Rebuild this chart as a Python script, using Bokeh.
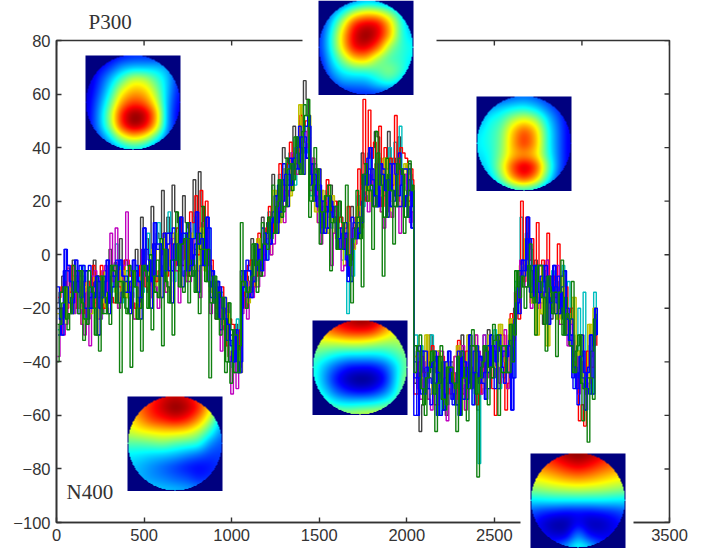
import numpy as np
from bokeh.embed import file_html
from bokeh.layouts import column
from bokeh.models import FixedTicker, LinearAxis, Range1d
from bokeh.plotting import figure
from bokeh.resources import INLINE
from bokeh.core.properties import value

X_TICKS = [0, 500, 1000, 1500, 2000, 2500, 3000, 3500]
X_LABELLED = [0, 500, 1000, 1500, 2000, 2500, 3500]
Y_TICKS = [-100, -80, -60, -40, -20, 0, 20, 40, 60, 80]
SAMPLE_X = list(range(0, 3061, 30))
JUMP_X = 2040

GRAY = [-18,-8,-5,-2,-12,-8,-14,-2,-10,-6,2,-3,6,-2,-8,2,14,6,18,8,24,14,26,12,22,10,28,31,8,-4,-12,-16,-30,-30,-26,-6,-8,6,4,14,12,30,22,40,28,48,40,65,30,34,20,12,26,8,14,2,18,10,38,30,40,44,32,46,36,44,30,34,-48,-66,-36,-30,-52,-44,-60,-40,-52,-30,-48,-34,-58,-44,-28,-46,-32,-46,-30,-20,-6,2,-14,-2,-22,-6,-24,-10,-22,-30,-34,-46,-40,-50,-30]
CYAN = [-28,-20,-6,-16,-8,-24,-10,-18,-24,-8,-14,4,-18,-6,-16,-4,-14,8,-8,12,-4,16,-10,10,2,-6,14,-2,10,-12,-22,-14,-34,-42,-24,-18,-14,-8,-4,2,16,10,30,20,38,26,50,38,22,30,12,24,10,16,-2,-22,-8,22,18,38,24,36,22,40,42,48,26,30,-30,-34,-48,-30,-50,-42,-56,-46,-40,-50,-36,-56,-78,-30,-44,-28,-50,-42,-30,-10,14,8,2,-6,-12,-2,-6,-14,-4,-10,-30,-20,-14,-34,-14]
OLIVE = [-22,-24,-18,-8,-20,-12,-22,-10,-18,-20,-6,-14,-6,-16,-10,-18,-4,-12,2,-8,6,-4,8,-6,-2,8,-4,10,-6,-14,-10,-26,-22,-36,-36,-8,-18,-2,6,-2,8,24,12,32,22,36,56,42,26,16,24,8,22,6,10,12,2,18,24,20,32,22,36,20,30,18,34,20,-38,-46,-30,-52,-36,-50,-40,-54,-34,-48,-30,-44,-40,-50,-30,-42,-26,-40,-24,-22,-4,6,-18,-30,-22,-34,-18,-24,-8,-22,-16,-36,-50,-26,-20]
RED = [-16,-10,-14,-20,-6,-18,-12,-20,-4,-12,-16,-6,-14,-2,-18,-8,-2,-14,4,-6,8,2,-4,14,6,16,22,24,20,-2,-20,-12,-34,-26,-38,-14,-4,-12,8,0,18,14,34,24,42,34,52,50,34,20,14,28,16,12,2,18,10,32,58,54,42,48,40,36,52,40,36,32,-52,-38,-44,-34,-56,-38,-50,-44,-32,-52,-36,-46,-52,-36,-34,-60,-30,-58,-22,-14,20,14,6,12,-2,8,-8,4,-16,-28,-40,-62,-64,-42,-30]
PURPLE = [-38,-30,-4,-22,-12,-30,-34,-6,-24,-4,8,10,-16,16,-14,-24,2,-14,-6,-20,0,-12,6,-18,4,-10,2,-16,6,-22,-24,-36,-20,-52,-50,-22,-24,-16,-12,-8,6,4,18,12,24,32,38,46,24,28,4,20,-4,12,-6,8,2,14,26,16,18,24,10,16,22,8,30,12,-44,-54,-40,-58,-42,-36,-62,-44,-56,-34,-40,-50,-36,-30,-44,-34,-48,-28,-36,-14,-2,-12,-20,-6,-18,-2,-20,-4,-26,-34,-32,-52,-44,-48,-28]
BLUE = [-24,2,-10,-2,-16,-6,-20,-8,-16,-2,-12,-4,-8,-14,-2,-10,10,-2,12,4,-6,8,-2,14,8,-4,16,6,14,-6,-10,-20,-26,-40,-44,-12,-6,-10,2,8,4,22,16,30,26,40,44,36,34,18,20,10,14,6,2,-8,12,8,30,40,22,34,24,18,30,26,22,10,-60,-36,-50,-40,-44,-58,-36,-52,-60,-40,-30,-44,-38,-54,-30,-40,-42,-38,-58,-18,-2,14,-6,-18,-10,-26,-4,-22,-6,-32,-42,-38,-58,-30,-20]
GREEN = [-40,-18,-28,-4,-22,-32,-6,-20,-36,-16,-26,-4,-44,-20,-42,-12,-36,-8,-28,-2,-34,-12,-30,4,-14,-18,-6,-22,2,-46,-8,-30,-44,-48,-30,12,-20,-8,-14,12,2,26,20,16,32,28,34,56,14,40,4,22,-6,18,2,26,-18,24,-12,20,2,38,-8,30,4,36,8,35,-44,-30,-60,-40,-66,-34,-56,-42,-66,-36,-62,-28,-83,-40,-56,-26,-60,-34,-44,-30,-16,-20,4,-30,-4,-36,-14,-38,-2,-22,-10,-34,-62,-70,-54]
GREEN2 = [-26,-12,-22,-14,-6,-24,-12,-30,-8,-22,-4,-18,-10,-22,-6,-24,-4,-20,-8,-16,2,-18,-2,-12,6,-8,-14,2,-10,-18,-24,-16,-40,-28,-44,-10,-14,4,-2,4,14,8,28,18,34,44,30,52,20,32,16,22,12,2,12,0,6,14,30,24,18,26,14,24,18,32,14,24,-34,-50,-46,-36,-48,-54,-42,-48,-38,-46,-50,-34,-46,-34,-42,-32,-34,-44,-26,-6,-8,-12,-16,-4,-16,-8,-22,-14,-30,-24,-44,-30,-50,-46,-24]
BLUE2 = [-12,-20,-4,-14,-22,-10,-4,-16,-20,-10,-18,-12,-2,-8,-20,-4,-12,-6,-10,2,-8,4,10,-4,-8,12,0,8,-4,-12,-18,-28,-24,-34,-28,-20,-2,-8,-4,10,8,16,26,34,30,36,48,44,26,22,12,18,20,14,10,-2,14,10,20,36,28,18,32,26,20,38,20,28,-40,-44,-36,-56,-38,-46,-52,-54,-44,-36,-48,-56,-46,-40,-50,-36,-30,-48,-32,-24,-10,-2,-14,-16,-8,-14,-16,-18,-12,-20,-46,-56,-36,-42,-34]
PURPLE2 = [-20,-26,-12,-8,-26,-14,-8,-24,-6,-18,-10,-20,-4,-12,-24,-10,-8,-16,-12,2,-14,6,-6,4,-10,6,-6,12,-2,-10,-16,-22,-38,-32,-42,-16,-10,-12,-6,6,0,14,24,22,38,30,42,40,36,12,18,14,8,10,-4,2,4,16,22,30,34,16,26,14,24,20,18,16,-50,-42,-54,-44,-36,-52,-46,-38,-48,-58,-42,-30,-52,-46,-36,-42,-38,-50,-34,-18,-4,-8,-10,-20,-14,-20,-10,-26,-20,-26,-38,-40,-52,-38,-26]
GRAY2 = [-14,-24,-16,-6,-18,-26,-14,-8,-22,-14,-6,-10,-16,-4,-12,-20,-6,0,-14,6,-10,-2,16,4,12,-2,8,18,2,-8,-14,-24,-18,-44,-34,-12,-12,-4,-8,8,6,18,14,36,24,38,46,58,26,24,10,26,14,20,6,-4,10,6,34,26,46,30,36,24,34,30,24,26,-36,-56,-44,-52,-38,-58,-44,-50,-60,-42,-34,-52,-42,-36,-46,-30,-44,-34,-40,-12,-12,-4,-18,-10,-26,-12,-14,-20,-16,-34,-36,-48,-46,-36,-22]
BLUE3 = [-30,-6,-18,-10,-4,-20,-16,-10,-14,-18,-8,-2,-14,-10,-6,-16,2,-10,4,-8,8,-6,4,8,-6,6,4,-4,10,-16,-12,-24,-32,-36,-40,-6,-16,-2,-6,-2,12,12,20,26,36,32,40,48,30,26,8,16,18,2,8,-10,6,12,26,32,18,30,28,34,22,18,32,18,-46,-52,-42,-48,-60,-40,-48,-56,-36,-54,-44,-36,-48,-44,-34,-50,-36,-34,-46,-22,-6,6,-4,-14,-4,-18,-12,-8,-24,-30,-50,-46,-44,-52,-30]

# each trace alternates two read-off envelopes at half the sample spacing
SERIES = [(GRAY, GRAY2, "#404040", 0), (CYAN, BLUE3, "#00BFBF", 7), (OLIVE, PURPLE2, "#BFBF00", 3),
          (RED, BLUE2, "#FF0000", 10), (PURPLE, PURPLE2, "#BF00BF", 5), (OLIVE, GREEN2, "#BFBF00", 12),
          (BLUE2, BLUE, "#0000FF", 2), (BLUE3, GREEN2, "#0000FF", 9), (GREEN2, GRAY2, "#008000", 6),
          (BLUE, BLUE3, "#0000FF", 13), (GREEN, GREEN2, "#108010", 0)]

MAP_P300_LEFT = [
 [.05,.05,.08,.12,.15,.15,.12,.08,.05],[.05,.10,.17,.27,.30,.30,.32,.28,.10],[.05,.15,.29,.44,.58,.56,.44,.32,.12],
 [.06,.18,.36,.60,.70,.68,.52,.30,.12],[.07,.22,.44,.72,.82,.78,.60,.27,.10],[.07,.25,.52,.86,1.0,.96,.72,.25,.08],
 [.07,.25,.50,.84,.98,.92,.68,.25,.08],[.05,.18,.34,.56,.66,.60,.42,.20,.07],[.04,.10,.20,.30,.36,.32,.20,.10,.05]]
MAP_TOP = [
 [.05,.08,.15,.22,.27,.25,.18,.10,.05],[.08,.22,.38,.55,.62,.60,.50,.35,.12],[.10,.32,.58,.85,.92,.90,.70,.42,.25],
 [.14,.38,.68,.92,1.0,.92,.72,.42,.32],[.15,.38,.66,.90,.92,.80,.52,.42,.38],[.12,.33,.52,.68,.70,.52,.44,.42,.35],
 [.08,.27,.38,.42,.42,.46,.52,.44,.30],[.05,.18,.27,.27,.28,.36,.42,.33,.14],[.04,.06,.12,.15,.15,.16,.14,.10,.05]]
MAP_RIGHT = [
 [.05,.08,.15,.2,.22,.2,.14,.08,.05],[.12,.28,.33,.36,.38,.33,.24,.15,.06],[.25,.38,.42,.55,.62,.55,.35,.20,.08],
 [.34,.40,.47,.68,.82,.70,.40,.22,.08],[.36,.40,.48,.70,.85,.72,.40,.22,.08],[.34,.38,.50,.68,.72,.66,.42,.22,.08],
 [.30,.36,.55,.82,.96,.85,.50,.22,.08],[.20,.30,.48,.72,.85,.72,.42,.17,.06],[.06,.14,.26,.35,.38,.33,.20,.08,.04]]
MAP_N400 = [
 [.6,.72,.82,.9,.93,.9,.8,.6,.4],[.68,.78,.86,.94,1.0,.96,.86,.66,.4],[.62,.72,.82,.86,.9,.86,.74,.55,.3],
 [.58,.62,.64,.66,.66,.64,.56,.42,.24],[.46,.46,.48,.5,.46,.44,.42,.26,.2],[.36,.35,.33,.32,.3,.26,.22,.18,.18],
 [.33,.3,.26,.22,.18,.14,.12,.14,.18],[.33,.3,.27,.25,.22,.2,.15,.17,.2],[.34,.34,.34,.33,.32,.3,.28,.25,.22]]
MAP_MID = [
 [.78,.85,.9,.95,1.0,.98,.86,.7,.6],[.66,.72,.8,.85,.86,.84,.72,.6,.58],[.56,.56,.56,.58,.58,.55,.52,.52,.56],
 [.46,.42,.37,.34,.34,.34,.36,.42,.5],[.42,.3,.2,.13,.12,.12,.18,.32,.5],[.42,.27,.12,.04,0,.02,.1,.32,.55],
 [.44,.33,.2,.13,.1,.12,.2,.36,.56],[.5,.44,.36,.34,.35,.36,.4,.46,.58],[.55,.55,.55,.55,.58,.6,.6,.6,.6]]
MAP_BOTTOM = [
 [.75,.85,.92,.98,1.0,.98,.92,.85,.75],[.72,.78,.82,.88,.92,.88,.82,.78,.72],[.64,.66,.7,.74,.76,.74,.7,.66,.64],
 [.52,.54,.56,.57,.58,.57,.56,.54,.52],[.36,.37,.38,.38,.38,.38,.38,.37,.36],[.2,.16,.14,.12,.12,.12,.14,.16,.2],
 [.15,.08,.03,.03,.12,.05,.05,.1,.15],[.15,.12,.08,.08,.28,.12,.1,.12,.16],[.16,.18,.2,.3,.42,.35,.2,.15,.16]]

FRAME_COLOR = "#333333"
main = figure(width=705, height=551, output_backend="svg", toolbar_location=None,
              x_range=Range1d(0, 3500), y_range=Range1d(-100, 80),
              min_border_left=56, min_border_right=36, min_border_top=40, min_border_bottom=29,
              x_axis_location=None, y_axis_location=None,
              outline_line_color=FRAME_COLOR, outline_line_width=1.6, frame_align=False)
main.grid.visible = False
split = SAMPLE_X.index(JUMP_X)
for a, b, color, shift in SERIES:
    n = min(len(a), len(b))
    ys = np.empty(2 * n)
    ys[0::2], ys[1::2] = a[:n], b[:n]
    base = np.array(SAMPLE_X[:n], dtype=float)
    xs = np.empty(2 * n)
    xs[0::2], xs[1::2] = base + shift, base + 15 + shift
    xs[:2 * split] = np.minimum(xs[:2 * split], JUMP_X)
    xs[2 * split] = JUMP_X
    main.step(xs, ys, mode="after", line_color=color, line_width=1.4)

UX = 3500 / 613
UY = 180 / 482
main.segment(x0=X_TICKS, x1=X_TICKS, y0=[80] * len(X_TICKS), y1=[80 - 5 * UY] * len(X_TICKS),
             line_color=FRAME_COLOR, line_width=1.4)
main.segment(x0=[3500] * len(Y_TICKS), x1=[3500 - 5 * UX] * len(Y_TICKS), y0=Y_TICKS, y1=Y_TICKS,
             line_color=FRAME_COLOR, line_width=1.4)

for side, ticks in [("left", Y_TICKS), ("below", X_LABELLED)]:
    ax = LinearAxis(axis_line_color=FRAME_COLOR, axis_line_width=1.6, major_tick_line_color=FRAME_COLOR,
                    major_tick_line_width=1.4, major_tick_in=5, major_tick_out=0, minor_tick_line_color=None,
                    major_label_text_font="Liberation Sans", major_label_text_font_size="16.5px",
                    major_label_text_color=FRAME_COLOR, major_label_standoff=6)
    ax.ticker = FixedTicker(ticks=ticks)
    main.add_layout(ax, side)

overlay = figure(width=705, height=551, output_backend="svg", toolbar_location=None,
                 x_range=Range1d(-56 * UX, (705 - 56) * UX), y_range=Range1d(-100 - 29 * UY, 80 + 40 * UY),
                 x_axis_location=None, y_axis_location=None, outline_line_color=None,
                 background_fill_color=None, border_fill_color=None, frame_align=False,
                 min_border=0, min_border_left=0, min_border_right=0, min_border_top=0, min_border_bottom=0)
overlay.grid.visible = False
overlay.styles = {"position": "absolute", "left": "0px", "top": "0px"}


def dx(px):
    return (px - 56) * UX


def dy(py):
    return 80 - (py - 40) * UY


def jet_image(grid, n=95):
    g = np.array(grid, dtype=float)
    src = np.linspace(0, 1, g.shape[0])
    dst = np.linspace(0, 1, n)
    a = np.array([np.interp(dst, src, row) for row in g])
    a = np.array([np.interp(dst, src, col) for col in a.T]).T
    k = np.ones(9) / 9
    for _ in range(2):
        a = np.array([np.convolve(np.pad(r, 4, mode="edge"), k, "valid") for r in a])
        a = np.array([np.convolve(np.pad(c, 4, mode="edge"), k, "valid") for c in a.T]).T
    r = np.clip(1.5 - np.abs(4 * a - 3), 0, 1)
    gg = np.clip(1.5 - np.abs(4 * a - 2), 0, 1)
    b = np.clip(1.5 - np.abs(4 * a - 1), 0, 1)
    yy, xx = np.mgrid[0:n, 0:n]
    c = (n - 1) / 2
    out = (xx - c) ** 2 + (yy - c) ** 2 > (n / 2 - 0.5) ** 2
    r[out], gg[out], b[out] = 0, 0, 0.5
    img = np.empty((n, n), dtype=np.uint32)
    view = img.view(dtype=np.uint8).reshape((n, n, 4))
    view[..., 0] = (r * 255).astype(np.uint8)
    view[..., 1] = (gg * 255).astype(np.uint8)
    view[..., 2] = (b * 255).astype(np.uint8)
    view[..., 3] = 255
    return img[::-1]


overlay.quad(left=[dx(302), dx(520)], right=[dx(436), dx(633)], top=[dy(34), dy(516)], bottom=[dy(46), dy(551)],
             fill_color="white", line_color=None)

INSETS = [(MAP_P300_LEFT, 85, 55), (MAP_TOP, 318, 0), (MAP_RIGHT, 476, 96),
          (MAP_N400, 127, 396), (MAP_MID, 312, 320), (MAP_BOTTOM, 530, 453)]
for grid, left, top in INSETS:
    overlay.image_rgba(image=[jet_image(grid)], x=dx(left), y=dy(top + 94.5), dw=95 * UX, dh=94.5 * UY)

for txt, px, py in [("P300", 88, 21), ("N400", 66, 491)]:
    overlay.text([dx(px)], [dy(py)], text=[txt], text_font=value("Liberation Serif"), text_font_size="21px",
                 text_baseline="middle", text_align="left", text_color=FRAME_COLOR)

page = column(main, overlay)
open("out.html", "w").write(file_html(page, INLINE))
